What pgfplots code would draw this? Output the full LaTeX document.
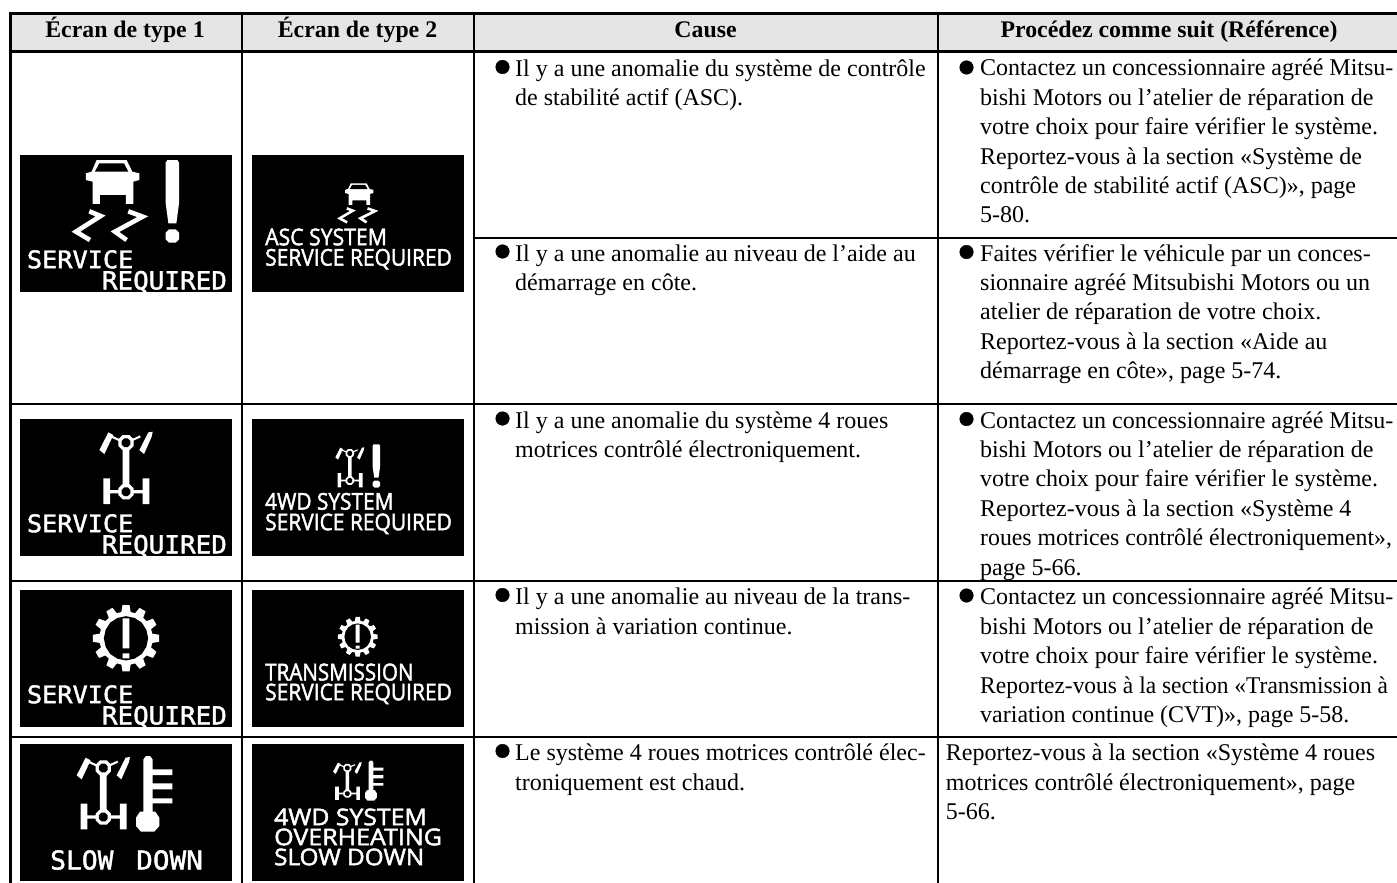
\documentclass[border=0pt]{standalone}
\usepackage{fontspec}
\usepackage{graphicx}
\usepackage{pgfplots}
\usepackage{pgfplotstable}
\pgfplotsset{compat=1.18}
\setmainfont{Liberation Serif}
\newfontfamily\pixfont{DejaVu Sans Mono}[FakeBold=1.6]
\newfontfamily\lcdfont{Open Sans}[FakeBold=2]
\definecolor{headgrey}{HTML}{E5E5E5}
\pgfplotsset{wf/.style={fill=white,draw=none},bk/.style={fill=black,draw=none}}

\pgfplotstableread[header=false]{
38 40
55 35
70 0
160 0
177 35
198 40
198 60
180 65
180 132
158 132
158 105
80 105
80 132
58 132
58 65
38 60
}\carW
\pgfplotstableread[header=false]{
78 10
152 10
165 35
65 35
}\carB
\pgfplotstableread[header=false]{
48 154
82 168
8 215
50 240
nan nan
165 154
208 170
125 215
160 240
}\tracks
\pgfplotstableread[header=false]{
0 8
5 0
35 0
40 8
40 130
32 190
8 190
0 130
nan nan
10 208
30 208
40 218
40 238
30 248
10 248
0 238
0 218
}\excl
\pgfplotstableread[header=false]{
2 58
29 5
44 13
17 70
nan nan
122 58
149 5
162 3
159 18
136 70
nan nan
38 14
62 25
60 31
36 20
nan nan
124 14
126 20
102 31
100 25
nan nan
72 13
92 13
105 26
105 46
92 59
72 59
59 46
59 26
nan nan
72 55
92 55
92 165
72 165
nan nan
72 160
92 160
105 173
105 193
92 206
72 206
59 193
59 173
nan nan
14 143
34 143
34 220
14 220
nan nan
132 143
152 143
152 220
132 220
nan nan
34 178
60 178
60 188
34 188
nan nan
104 178
132 178
132 188
104 188
}\fourW
\pgfplotstableread[header=false]{
76.5 23
87.5 23
95 30.5
95 41.5
87.5 49
76.5 49
69 41.5
69 30.5
nan nan
76.5 170
87.5 170
95 177.5
95 188.5
87.5 196
76.5 196
69 188.5
69 177.5
}\fourB
\pgfplotstableread[header=false]{
99.5 10.5
78.8 13.9
75.2 27.4
91.4 40.7
80.9 58.8
61.3 51.4
51.4 61.3
58.8 80.9
40.7 91.4
27.4 75.2
13.9 78.8
10.5 99.5
-10.5 99.5
-13.9 78.8
-27.4 75.2
-40.7 91.4
-58.8 80.9
-51.4 61.3
-61.3 51.4
-80.9 58.8
-91.4 40.7
-75.2 27.4
-78.8 13.9
-99.5 10.5
-99.5 -10.5
-78.8 -13.9
-75.2 -27.4
-91.4 -40.7
-80.9 -58.8
-61.3 -51.4
-51.4 -61.3
-58.8 -80.9
-40.7 -91.4
-27.4 -75.2
-13.9 -78.8
-10.5 -99.5
10.5 -99.5
13.9 -78.8
27.4 -75.2
40.7 -91.4
58.8 -80.9
51.4 -61.3
61.3 -51.4
80.9 -58.8
91.4 -40.7
75.2 -27.4
78.8 -13.9
99.5 -10.5
}\gearW
\pgfplotstableread[header=false]{
62 0
57 24
44 44
24 57
0 62
-24 57
-44 44
-57 24
-62 0
-57 -24
-44 -44
-24 -57
0 -62
24 -57
44 -44
57 -24
}\gearB
\pgfplotstableread[header=false]{
-10 -60
10 -60
10 30
-10 30
nan nan
-10 45
10 45
10 60
-10 60
}\gearE
\pgfplotstableread[header=false]{
22 10
30 0
42 0
50 10
50 167
58 167
70 185
70 210
55 227
15 227
0 210
0 185
12 167
22 167
nan nan
50 40
109 40
109 57
50 57
nan nan
50 82
109 82
109 100
50 100
nan nan
50 127
109 127
109 142
50 142
}\thermo

% #1 style, #2 table, #3 X, #4 Y, #5 sx, #6 sy
\newcommand{\shape}[6]{\addplot[#1] table[x expr=\thisrowno{0}*#5+#3, y expr=\thisrowno{1}*#6+#4]{#2};}
\newcommand{\bx}[4]{\addplot[fill=black,draw=none] coordinates {(#1,#2)(#3,#2)(#3,#4)(#1,#4)} -- cycle;}
\newcommand{\hl}[4][2pt]{\addplot[black,line width=#1] coordinates {(#2,#4)(#3,#4)};}
\newcommand{\vl}[4][2pt]{\addplot[black,line width=#1] coordinates {(#2,#3)(#2,#4)};}
\newcommand{\rtx}[6]{\node[anchor=north west,inner sep=0pt,text=white] at (axis cs:#1,#2) {\resizebox{#3pt}{#4pt}{#5#6}};}
\newcommand{\Lx}[3]{\node[anchor=base west,inner sep=0pt,text=black] at (axis cs:#1,#2) {\fontsize{24}{28}\selectfont #3};}
\newcommand{\LxS}[4]{\node[anchor=base west,inner sep=0pt,text=black] at (axis cs:#1,#2) {\fontsize{24}{28}\selectfont\scalebox{#3}[1]{#4}};}
\newcommand{\Hd}[3]{\node[anchor=base,inner sep=0pt,text=black] at (axis cs:#1,#2) {\fontsize{23.8}{28}\selectfont\bfseries #3};}
\newcommand{\bul}[2]{\addplot[only marks,mark=*,mark size=6.8pt,black] coordinates {(#1,#2)};}
\newcommand{\svcone}[2]{%
 \rtx{26.7}{#1}{106.5}{18}{\pixfont}{SERVICE}
 \rtx{101.7}{#2}{125}{18.5}{\pixfont}{REQUIRED}}

\begin{document}
\begin{tikzpicture}
\begin{axis}[scale only axis,width=1397pt,height=883pt,xmin=0,xmax=1397,ymin=0,ymax=883,
  y dir=reverse,hide axis,clip=true,unbounded coords=jump]
% page
\addplot[fill=white,draw=none] coordinates {(0,0)(1397,0)(1397,883)(0,883)} -- cycle;
% header band
\addplot[fill=headgrey,draw=none] coordinates {(10,14)(1397,14)(1397,52)(10,52)} -- cycle;
% rules
\hl[3pt]{8.5}{1397}{13.5}
\hl[3pt]{8.5}{1397}{52}
\vl[3pt]{10.3}{12}{883}
\vl{241.5}{13}{883}
\vl{474}{13}{883}
\vl{937.5}{13}{883}
\hl{474}{1397}{238}
\hl{8.5}{1397}{404}
\hl{8.5}{1397}{580.7}
\hl{8.5}{1397}{736.7}
% screens
\bx{20}{155}{232}{292}
\bx{252}{155}{464}{292}
\bx{20}{419}{232}{556}
\bx{252}{419}{464}{556}
\bx{20}{590}{232}{727}
\bx{252}{590}{464}{727}
\bx{20}{744}{232}{881}
\bx{252}{744}{464}{881}
% row 1
\shape{wf}{\carW}{73.3}{160}{0.3333}{0.3333}
\shape{bk}{\carB}{73.3}{160}{0.3333}{0.3333}
\shape{draw=white,line width=4.6pt}{\tracks}{73.3}{160}{0.3333}{0.3333}
\shape{wf}{\excl}{165.7}{160}{0.3333}{0.3333}
\svcone{250}{270.7}
\shape{wf}{\carW}{338.3}{183.3}{0.177}{0.163}
\shape{bk}{\carB}{338.3}{183.3}{0.177}{0.163}
\shape{draw=white,line width=2.6pt}{\tracks}{338.3}{183.3}{0.177}{0.163}
\rtx{265}{228.3}{121.7}{16.7}{\lcdfont}{ASC SYSTEM}
\rtx{265}{248.7}{186.7}{16.7}{\lcdfont}{SERVICE REQUIRED}
% row 2
\shape{wf}{\fourW}{98.7}{430.7}{0.3333}{0.3333}
\shape{bk}{\fourB}{98.7}{430.7}{0.3333}{0.3333}
\svcone{514}{534.7}
\shape{wf}{\fourW}{335}{446.7}{0.181}{0.185}
\shape{bk}{\fourB}{335}{446.7}{0.181}{0.185}
\shape{wf}{\excl}{372.7}{444.3}{0.183}{0.175}
\rtx{265}{492.7}{128.3}{16.7}{\lcdfont}{4WD SYSTEM}
\rtx{265}{513.3}{186.7}{16.7}{\lcdfont}{SERVICE REQUIRED}
% row 3
\shape{wf}{\gearW}{126}{638.3}{0.3333}{0.3333}
\shape{bk}{\gearB}{126}{638.3}{0.357}{0.357}
\shape{wf}{\gearE}{126}{638.3}{0.3333}{0.3333}
\svcone{685}{705.7}
\shape{wf}{\gearW}{357.7}{636.7}{0.2}{0.2}
\shape{bk}{\gearB}{357.7}{636.7}{0.214}{0.214}
\shape{wf}{\gearE}{357.7}{636.7}{0.2}{0.2}
\rtx{265}{663.3}{148.3}{17}{\lcdfont}{TRANSMISSION}
\rtx{265}{683.3}{186.7}{16.7}{\lcdfont}{SERVICE REQUIRED}
% row 4
\shape{wf}{\fourW}{76}{756}{0.3333}{0.3333}
\shape{bk}{\fourB}{76}{756}{0.3333}{0.3333}
\shape{wf}{\thermo}{136}{756}{0.3333}{0.3333}
\rtx{50}{850}{63.3}{19.3}{\pixfont}{SLOW}
\rtx{136}{850}{66.7}{19.3}{\pixfont}{DOWN}
\shape{wf}{\fourW}{332.7}{761.7}{0.179}{0.174}
\shape{bk}{\fourB}{332.7}{761.7}{0.179}{0.174}
\shape{wf}{\thermo}{365}{760.7}{0.168}{0.176}
\rtx{274}{808.3}{152.7}{16.7}{\lcdfont}{4WD SYSTEM}
\rtx{274}{828.3}{167.7}{16.7}{\lcdfont}{OVERHEATING}
\rtx{274}{848.3}{150}{16.7}{\lcdfont}{SLOW DOWN}
% header text
\Hd{125}{38}{Écran de type 1}
\Hd{357.5}{38}{Écran de type 2}
\Hd{705.5}{38}{Cause}
\Hd{1169}{38}{Procédez comme suit (Référence)}
% cause column
\bul{502.5}{67}
\Lx{515}{76.5}{Il y a une anomalie du système de contrôle}
\Lx{515}{105.5}{de stabilité actif (ASC).}
\bul{502.5}{251.5}
\Lx{515}{261}{Il y a une anomalie au niveau de l’aide au}
\Lx{515}{290}{démarrage en côte.}
\bul{502.5}{418.5}
\Lx{515}{428}{Il y a une anomalie du système 4 roues}
\Lx{515}{457.4}{motrices contrôlé électroniquement.}
\bul{502.5}{595}
\Lx{515}{604.7}{Il y a une anomalie au niveau de la trans-}
\Lx{515}{634}{mission à variation continue.}
\bul{502.5}{751}
\Lx{515}{760.7}{Le système 4 roues motrices contrôlé élec-}
\Lx{515}{790}{troniquement est chaud.}
% action column
\bul{966.5}{67.5}
\Lx{980}{76}{Contactez un concessionnaire agréé Mitsu-}
\Lx{980}{105.3}{bishi Motors ou l’atelier de réparation de}
\Lx{980}{134.5}{votre choix pour faire vérifier le système.}
\Lx{980}{164}{Reportez-vous à la section «Système de}
\Lx{980}{193.3}{contrôle de stabilité actif (ASC)», page}
\Lx{980}{222.7}{5-80.}
\bul{966.5}{252}
\Lx{980}{261}{Faites vérifier le véhicule par un conces-}
\Lx{980}{290}{sionnaire agréé Mitsubishi Motors ou un}
\Lx{980}{319.5}{atelier de réparation de votre choix.}
\Lx{980}{349}{Reportez-vous à la section «Aide au}
\Lx{980}{378.3}{démarrage en côte», page 5-74.}
\bul{966.5}{419}
\Lx{980}{428}{Contactez un concessionnaire agréé Mitsu-}
\Lx{980}{457.4}{bishi Motors ou l’atelier de réparation de}
\Lx{980}{486.8}{votre choix pour faire vérifier le système.}
\Lx{980}{516.2}{Reportez-vous à la section «Système 4}
\LxS{980}{545.6}{0.99}{roues motrices contrôlé électroniquement»,}
\Lx{980}{575}{page 5-66.}
\bul{966.5}{595.5}
\Lx{980}{604.7}{Contactez un concessionnaire agréé Mitsu-}
\Lx{980}{634}{bishi Motors ou l’atelier de réparation de}
\Lx{980}{663.5}{votre choix pour faire vérifier le système.}
\LxS{980}{693}{0.978}{Reportez-vous à la section «Transmission à}
\Lx{980}{722.4}{variation continue (CVT)», page 5-58.}
\Lx{945.7}{760.7}{Reportez-vous à la section «Système 4 roues}
\Lx{945.7}{790}{motrices contrôlé électroniquement», page}
\Lx{945.7}{819.5}{5-66.}
\end{axis}
\end{tikzpicture}
\end{document}
